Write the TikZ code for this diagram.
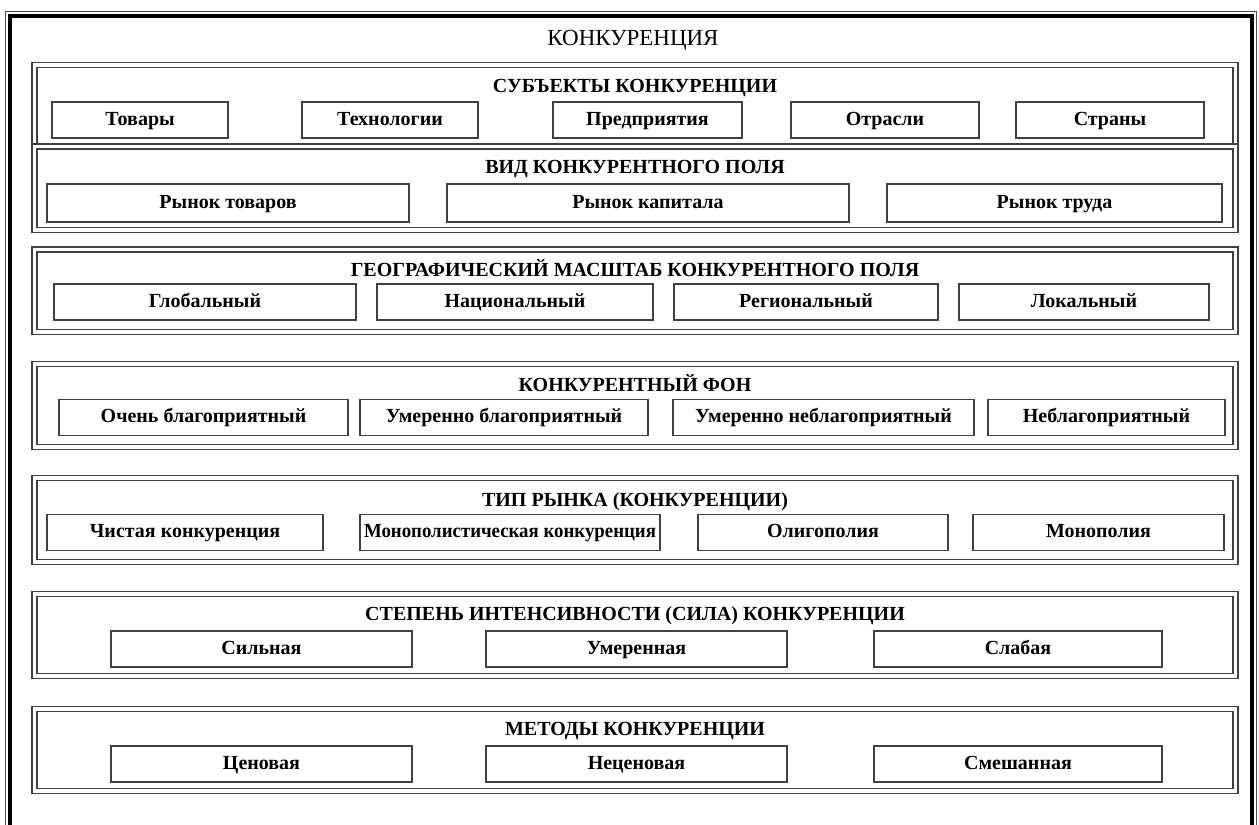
\documentclass[tikz,border=0pt]{standalone}
\usepackage{fontspec}
\setmainfont{Liberation Serif}
\usepackage{graphicx}
\newcommand\squeezeto[2]{\resizebox{#1}{\height}{#2}}
\tikzset{
  band/.style={draw=black!75, line width=0.7pt, double, double distance=1.8pt},
  cell/.style={draw=black!75, line width=0.8pt, inner sep=0pt, minimum height=18pt,
    text height=7pt, text depth=2pt, font=\bfseries\fontsize{10}{12}\selectfont},
  band title/.style={inner sep=0pt, text height=7pt, text depth=2pt,
    font=\bfseries\fontsize{10}{12}\selectfont}
}
\begin{document}
\begin{tikzpicture}[x=0.5pt, y=-0.5pt]
\useasboundingbox (0,0) rectangle (1259,825);
\draw [line width=0.5pt, black!70] (5,11) rectangle (1256.5,900);
\draw [line width=2pt] (10,15.5) rectangle (1251.5,900);
\node [inner sep=0pt, font=\fontsize{11.5}{13}\selectfont] (title) at (633,40) {КОНКУРЕНЦИЯ};
\foreach \t/\b in {65/146.5, 146.5/230, 249.5/332, 364/447, 478/562, 594/676, 709/791}
  \draw [band] (34.5,\t) rectangle (1235.5,\b);
\foreach \t/\y [count=\i] in {СУБЪЕКТЫ КОНКУРЕНЦИИ/87.5, ВИД КОНКУРЕНТНОГО ПОЛЯ/168.5,
    ГЕОГРАФИЧЕСКИЙ МАСШТАБ КОНКУРЕНТНОГО ПОЛЯ/271.5, КОНКУРЕНТНЫЙ ФОН/386.5,
    ТИП РЫНКА (КОНКУРЕНЦИИ)/501.5, СТЕПЕНЬ ИНТЕНСИВНОСТИ (СИЛА) КОНКУРЕНЦИИ/615.5,
    МЕТОДЫ КОНКУРЕНЦИИ/730.5}
  \node [band title] (head-\i) at (635,\y) {\t};
\foreach \l/\a/\b [count=\i] in {Товары/52/228, Технологии/302/478, Предприятия/553/742,
    Отрасли/791/979, Страны/1016/1204}
  \node [cell, minimum width={(\b-\a)/2}] (subject-\i) at ({(\a+\b)/2},120) {\l};
\foreach \l/\a/\b [count=\i] in {Рынок товаров/47/409, Рынок капитала/447/849, Рынок труда/887/1222}
  \node [cell, minimum width={(\b-\a)/2}, minimum height=19pt] (field-\i) at ({(\a+\b)/2},203) {\l};
\foreach \l/\a/\b [count=\i] in {Глобальный/54/356, Национальный/377/653, Региональный/674/938,
    Локальный/959/1209}
  \node [cell, minimum width={(\b-\a)/2}] (scale-\i) at ({(\a+\b)/2},302) {\l};
\foreach \l/\a/\b [count=\i] in {Очень благоприятный/59/348, Умеренно благоприятный/360/648,
    Умеренно неблагоприятный/673/974, Неблагоприятный/988/1225}
  \node [cell, minimum width={(\b-\a)/2}] (backdrop-\i) at ({(\a+\b)/2},417.5) {\l};
\foreach \l/\a/\b [count=\i] in {Чистая конкуренция/47/323,
    {\squeezeto{146pt}{Монополистическая конкуренция}}/360/660, Олигополия/698/948, Монополия/973/1224}
  \node [cell, minimum width={(\b-\a)/2}] (market-\i) at ({(\a+\b)/2},532.5) {\l};
\foreach \l/\a/\b [count=\i] in {Сильная/111/412, Умеренная/486/787, Слабая/874/1162}
  \node [cell, minimum width={(\b-\a)/2}] (force-\i) at ({(\a+\b)/2},649) {\l};
\foreach \l/\a/\b [count=\i] in {Ценовая/111/412, Неценовая/486/787, Смешанная/874/1162}
  \node [cell, minimum width={(\b-\a)/2}] (method-\i) at ({(\a+\b)/2},764) {\l};
\end{tikzpicture}
\end{document}
